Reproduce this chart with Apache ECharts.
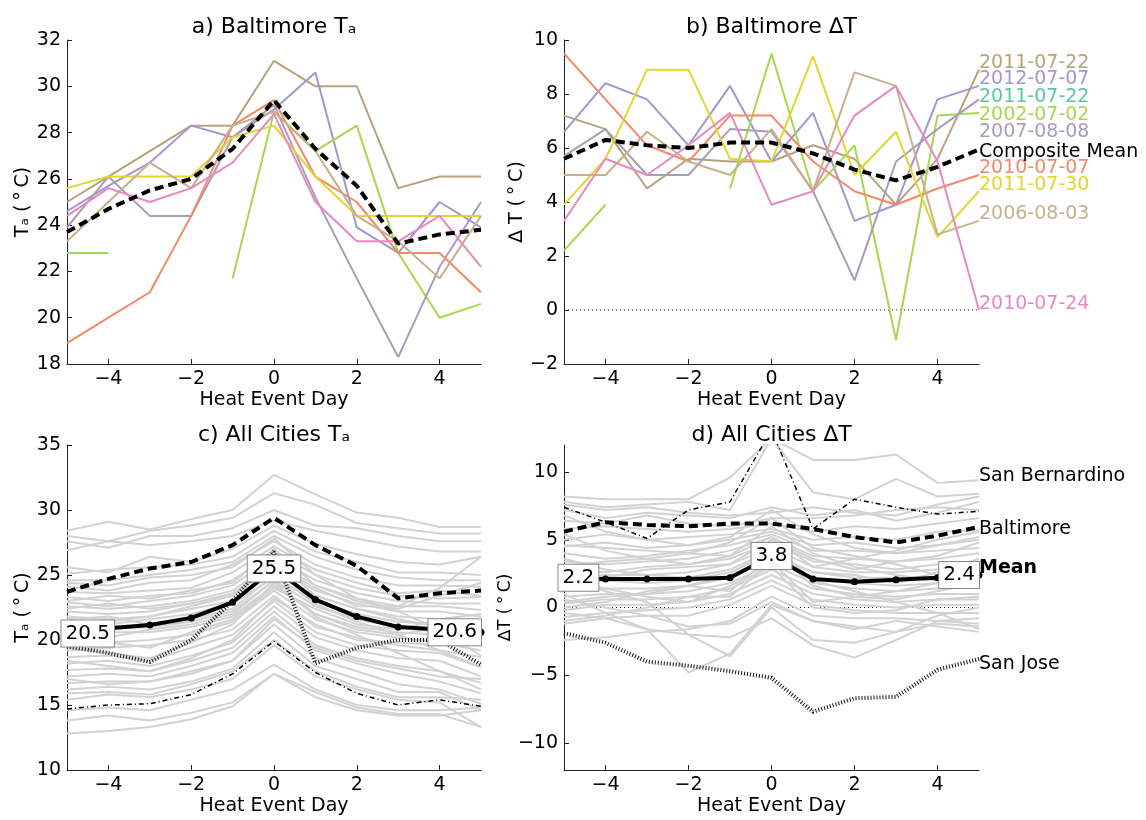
<!DOCTYPE html>
<html>
<head>
<meta charset="utf-8">
<script src="https://cdn.jsdelivr.net/npm/echarts@6/dist/echarts.min.js"></script>
<style>
  html, body { margin: 0; padding: 0; background: #fff; }
  #chart { width: 1146px; height: 820px; }
</style>
</head>
<body>
<div id="chart"></div>
<script>
// heat event days
const days = [-5, -4, -3, -2, -1, 0, 1, 2, 3, 4, 5];
const dayTicks = [-4, -2, 0, 2, 4];

// Baltimore events (panels a, b)
const eventNames = ['2011-07-22', '2012-07-07', '2011-07-22', '2002-07-02', '2007-08-08',
                    '2010-07-07', '2011-07-30', '2006-08-03', '2010-07-24'];
const eventColors = ['#b8a27e', '#a596cf', '#5cc6a0', '#a6d84e', '#a99cb9',
                     '#f08a69', '#e0d62e', '#c7b08c', '#e58ac3'];
const eventTa = [
  [25.0, 26.1, 27.2, 28.3, 28.3, 31.1, 30.0, 30.0, 25.6, 26.1, 26.1],
  [24.6, 25.7, 26.7, 28.3, 27.8, 29.0, 30.6, 23.9, 22.8, 25.0, 23.9],
  [null, null, null, null, null, null, null, null, null, null, null],
  [22.8, 22.8, null, null, 21.7, 28.9, 27.2, 28.3, 22.8, 20.0, 20.6],
  [23.9, 26.1, 24.4, 24.4, 27.8, 29.2, 25.2, 21.7, 18.3, 22.2, 25.0],
  [18.9, 20.0, 21.1, 24.4, 28.3, 29.4, 26.1, 25.0, 22.8, 22.8, 21.1],
  [25.6, 26.1, 26.1, 26.1, 27.8, 28.3, 26.1, 24.4, 24.4, 24.4, 24.4],
  [23.3, 25.0, 26.7, 25.6, 28.3, 28.9, 27.2, 24.4, 23.3, 21.7, 24.4],
  [24.4, 25.6, 25.0, 25.6, 26.7, 28.8, 25.0, 23.3, 23.3, 24.4, 22.2]
];
const eventDT = [
  [7.2, 6.7, 4.5, 5.6, 5.5, 5.5, 6.1, 5.6, 3.9, 5.6, 8.9],
  [6.6, 8.4, 7.8, 6.1, 8.3, 5.5, 7.3, 3.3, 3.9, 7.8, 8.3],
  [null, null, null, null, null, null, null, null, null, null, null],
  [2.2, 3.9, null, null, 4.5, 9.5, 4.4, 6.1, -1.1, 7.2, 7.3],
  [5.7, 6.7, 5.0, 5.0, 6.7, 6.6, 4.4, 1.1, 5.5, 6.7, 7.8],
  [9.5, 7.8, 6.1, 5.5, 7.2, 7.2, 5.5, 4.4, 3.9, 4.5, 5.0],
  [3.9, 5.6, 8.9, 8.9, 5.6, 5.5, 9.4, 5.0, 6.6, 2.7, 4.4],
  [5.0, 5.0, 6.6, 5.5, 5.0, 6.7, 4.4, 8.8, 8.3, 2.8, 3.3],
  [3.3, 5.6, 5.0, 6.1, 7.3, 3.9, 4.4, 7.2, 8.3, 5.5, 0.0]
];
const baltimoreMeanTa = [23.7, 24.7, 25.5, 26.0, 27.3, 29.4, 27.3, 25.7, 23.2, 23.6, 23.8];
const baltimoreMeanDT = [5.6, 6.3, 6.1, 6.0, 6.2, 6.2, 5.8, 5.2, 4.8, 5.3, 5.95];

// all cities (panels c, d)
const allMeanTa = [20.5, 20.9, 21.15, 21.7, 22.9, 25.5, 23.1, 21.8, 21.0, 20.8, 20.6];
const allMeanDT = [2.2, 2.1, 2.1, 2.1, 2.2, 3.8, 2.1, 1.9, 2.05, 2.2, 2.4];
const sanJoseTa = [19.5, 19.0, 18.3, 20.0, 23.0, 26.8, 18.2, 19.4, 20.0, 20.0, 18.1];
const sanJoseDT = [-1.9, -2.6, -4.0, -4.3, -4.7, -5.2, -7.7, -6.7, -6.6, -4.6, -3.8];
const sanBernTa = [14.7, 15.0, 15.1, 15.8, 17.4, 19.9, 17.5, 15.9, 15.0, 15.4, 14.9];
const sanBernDT = [7.4, 6.3, 5.1, 7.2, 7.8, 13.1, 5.8, 8.0, 7.4, 6.9, 7.1];

const cityTa = [
  [28.4, 29.1, 28.5, 29.3, 30.0, 32.7, 31.2, 29.8, 29.4, 28.7, 28.7],
  [28.0, 27.6, 28.4, 28.8, 29.4, 31.3, 30.4, 29.0, 28.6, 28.2, 28.2],
  [27.6, 27.1, 28.0, 28.0, 28.6, 30.0, 28.8, 28.6, 28.0, 27.6, 27.6],
  [26.9, 27.6, 27.3, 27.6, 28.0, 29.2, 28.4, 27.8, 27.2, 26.8, 26.8],
  [25.6, 25.2, 26.4, 26.0, 27.0, 28.8, 27.4, 26.6, 26.0, 25.8, 26.4],
  [25.1, 25.4, 25.6, 25.8, 26.4, 28.4, 26.8, 26.0, 25.2, 25.2, 25.0],
  [24.6, 24.6, 25.0, 25.4, 26.0, 28.0, 26.4, 25.4, 24.8, 24.6, 24.6],
  [24.1, 23.8, 24.4, 24.6, 25.8, 27.6, 25.8, 24.8, 24.2, 24.2, 24.1],
  [23.7, 23.6, 23.8, 24.0, 25.2, 27.2, 25.4, 24.4, 23.6, 23.8, 23.4],
  [23.3, 23.0, 23.4, 23.6, 24.6, 26.8, 25.0, 24.0, 23.4, 23.2, 23.3],
  [22.9, 22.6, 23.0, 23.4, 24.2, 26.4, 24.6, 23.6, 23.0, 22.8, 22.8],
  [22.6, 22.4, 22.6, 23.0, 23.8, 26.0, 24.2, 23.2, 22.6, 22.6, 22.3],
  [22.2, 22.0, 22.2, 22.8, 23.6, 25.6, 23.8, 22.8, 22.2, 22.2, 21.8],
  [21.8, 21.6, 21.8, 22.4, 23.0, 25.2, 23.4, 22.4, 21.8, 21.6, 21.3],
  [21.3, 21.2, 21.6, 22.0, 22.8, 24.8, 23.0, 22.0, 21.4, 21.2, 20.8],
  [20.8, 20.8, 21.0, 21.4, 22.2, 24.6, 22.6, 21.6, 21.0, 20.6, 20.3],
  [20.3, 20.6, 20.6, 21.0, 21.8, 24.2, 22.0, 21.0, 20.6, 20.4, 19.7],
  [19.7, 19.8, 20.0, 20.4, 21.4, 23.8, 21.6, 20.6, 20.2, 19.8, 19.2],
  [19.2, 19.4, 19.6, 20.0, 20.8, 23.4, 21.0, 20.2, 19.6, 19.2, 18.7],
  [18.7, 18.8, 18.4, 19.4, 20.4, 23.0, 20.6, 19.6, 19.2, 19.0, 17.9],
  [18.2, 18.4, 18.0, 18.8, 19.8, 22.6, 20.2, 19.2, 18.6, 18.4, 17.2],
  [17.7, 17.8, 17.6, 18.4, 19.4, 22.2, 19.6, 18.6, 18.0, 17.6, 16.7],
  [17.2, 17.4, 17.2, 18.0, 19.0, 21.8, 19.2, 18.2, 17.4, 16.8, 15.9],
  [16.7, 16.8, 16.8, 17.4, 18.4, 21.2, 18.6, 17.6, 16.6, 16.2, 15.1],
  [16.2, 16.4, 16.2, 16.8, 17.8, 20.6, 18.0, 17.0, 16.0, 16.0, 14.6],
  [15.4, 15.8, 15.6, 16.2, 17.0, 19.6, 17.2, 16.2, 15.4, 15.2, 13.3],
  [14.6, 14.8, 14.6, 15.4, 16.2, 18.1, 16.2, 15.0, 14.6, 14.6, 14.8],
  [13.8, 14.2, 13.8, 14.4, 15.2, 17.4, 15.6, 14.6, 14.2, 14.2, 14.6],
  [12.8, 13.0, 13.3, 13.9, 14.9, 17.4, 16.0, 14.8, 14.3, 14.3, 13.3],
  [23.0, 23.4, 23.2, 23.8, 24.4, 27.0, 24.2, 23.0, 22.4, 23.4, 24.4],
  [21.0, 21.4, 21.8, 22.6, 23.4, 25.8, 24.0, 22.6, 22.6, 24.0, 26.4],
  [20.0, 19.8, 19.4, 20.6, 21.6, 24.0, 22.4, 21.2, 20.8, 21.6, 22.0],
  [19.4, 19.0, 18.6, 19.8, 21.2, 24.4, 22.0, 20.8, 20.4, 21.0, 21.4],
  [18.4, 18.0, 17.6, 18.6, 20.0, 23.2, 21.2, 20.0, 19.8, 19.6, 20.0],
  [22.4, 22.8, 22.4, 22.8, 23.4, 26.2, 23.4, 22.4, 21.6, 21.0, 19.7],
  [24.4, 24.2, 24.8, 25.0, 25.6, 27.8, 25.0, 23.2, 22.2, 20.8, 18.8],
  [21.6, 21.8, 21.2, 21.6, 22.4, 25.0, 22.8, 21.4, 20.4, 19.2, 17.9],
  [20.6, 20.2, 20.8, 21.2, 22.0, 24.6, 21.8, 20.4, 19.0, 17.6, 16.2],
  [15.9, 16.0, 15.8, 16.6, 17.6, 20.0, 17.6, 16.4, 15.6, 15.6, 15.4],
  [17.0, 16.6, 16.8, 17.6, 18.4, 21.6, 19.4, 18.4, 17.8, 17.2, 17.0]
];
const cityDT = [
  [8.2, 8.0, 8.0, 8.0, 9.6, 12.5, 10.9, 10.9, 11.3, 9.2, 9.4],
  [7.8, 7.4, 7.6, 7.8, 7.2, 12.5, 8.5, 8.0, 9.5, 8.2, 8.4],
  [7.2, 6.6, 7.0, 6.8, 6.6, 7.4, 6.8, 7.2, 6.4, 7.0, 7.8],
  [6.4, 6.2, 6.8, 6.2, 6.0, 6.6, 6.6, 6.8, 7.2, 7.4, 7.2],
  [5.8, 6.0, 5.8, 5.6, 5.8, 6.2, 5.6, 6.0, 5.8, 6.2, 6.6],
  [5.0, 5.4, 5.0, 5.2, 5.4, 5.8, 5.0, 5.2, 5.0, 5.6, 5.7],
  [4.5, 4.8, 4.4, 4.6, 5.0, 5.6, 4.6, 4.8, 4.4, 4.6, 5.0],
  [4.0, 3.6, 3.8, 4.2, 4.6, 5.4, 4.2, 4.2, 4.0, 4.2, 4.4],
  [3.4, 3.2, 3.4, 3.6, 4.2, 5.2, 3.8, 3.6, 3.4, 3.6, 4.0],
  [2.7, 2.6, 3.0, 3.2, 3.6, 4.8, 3.4, 3.2, 2.8, 3.2, 3.4],
  [2.2, 2.4, 2.4, 2.6, 3.2, 4.4, 3.0, 2.6, 2.6, 2.8, 3.0],
  [1.8, 2.0, 1.8, 2.0, 2.6, 4.0, 2.6, 2.2, 2.2, 2.2, 2.6],
  [1.3, 1.4, 1.4, 1.6, 2.2, 3.6, 2.2, 1.8, 1.6, 1.8, 2.0],
  [0.8, 1.0, 1.0, 1.2, 1.8, 3.2, 1.8, 1.4, 1.2, 1.4, 1.6],
  [0.3, 0.6, 0.6, 0.8, 1.4, 2.8, 1.4, 1.0, 0.8, 1.0, 1.0],
  [-0.2, 0.2, 0.2, 0.4, 1.0, 2.4, 1.0, 0.6, 0.4, 0.6, 0.6],
  [-0.7, -0.4, -0.2, 0.0, 0.6, 2.0, 0.6, 0.2, 0.0, 0.2, 0.2],
  [-1.2, -0.8, -0.6, -0.6, 0.2, 1.6, 0.2, -0.2, -0.4, -0.4, -0.4],
  [-2.4, -2.2, -1.8, -1.6, -1.0, 0.8, -0.6, -0.8, -0.8, -1.0, -1.2],
  [0.6, 0.0, -0.6, -1.4, -1.2, 0.4, -1.0, -1.6, -1.0, -1.4, -1.8],
  [-0.4, -0.8, -1.6, -2.0, -2.2, -0.8, -2.8, -3.7, -2.4, -1.0, -0.8],
  [1.0, -0.4, -1.6, -4.8, -3.4, 0.2, -1.0, -1.4, -1.8, -1.2, -1.4],
  [2.4, 1.2, 0.4, -2.0, -3.6, 0.0, -2.4, -2.6, -1.8, -0.6, 0.0],
  [5.4, 4.2, 3.6, 3.2, 3.8, 5.2, 3.0, 3.6, 4.2, 5.0, 5.6],
  [6.8, 5.6, 5.0, 4.6, 5.2, 7.2, 5.4, 4.4, 4.0, 4.6, 5.2],
  [3.0, 3.4, 3.6, 4.0, 3.8, 6.0, 4.0, 3.0, 2.4, 2.0, 1.6],
  [1.6, 2.2, 2.8, 3.0, 3.2, 5.0, 3.6, 2.8, 3.4, 3.8, 4.8],
  [-1.0, -0.6, 0.0, 0.8, 0.8, 3.4, 0.4, 0.8, 1.2, 1.8, 3.0],
  [0.0, 0.4, 1.2, 1.6, 2.4, 4.6, 2.0, 1.2, 0.4, -0.4, -1.6],
  [4.6, 4.4, 4.2, 4.0, 4.8, 6.6, 4.4, 3.8, 3.2, 2.4, 2.2],
  [7.6, 7.2, 7.4, 7.0, 6.8, 7.0, 7.4, 7.0, 6.8, 7.6, 8.2],
  [3.6, 2.8, 2.4, 2.2, 2.8, 4.2, 1.6, 0.8, 0.6, 1.2, 1.8],
  [2.0, 1.4, 0.8, 0.4, 1.6, 3.0, 0.0, -0.4, -0.2, 0.6, 0.8],
  [0.4, 0.8, 1.0, 1.6, 1.2, 3.8, 2.6, 2.4, 1.8, 2.6, 3.6]
];

// where the right-hand names sit (in the panel's own y units)
const eventLabelY = [9.16, 8.56, 7.89, 7.22, 6.59, 5.26, 4.63, 3.56, 0.22];
const compositeLabelY = 5.85;
const cityLabels = [
  { name: 'San Bernardino', y: 9.7, bold: false },
  { name: 'Baltimore', y: 5.78, bold: false },
  { name: 'Mean', y: 2.89, bold: true },
  { name: 'San Jose', y: -4.15, bold: false }
];

const FONT = 'DejaVu Sans';
const minus = v => String(v).replace('-', '\u2212');
const pts = vals => days.map((d, i) => [d, vals[i] == null ? '-' : vals[i]]);

const grids = [
  { left: 67, top: 40, width: 414, height: 324 },
  { left: 564, top: 40, width: 415, height: 324 },
  { left: 67, top: 445, width: 414, height: 325 },
  { left: 564, top: 445, width: 415, height: 325 }
];

function xAxis(i) {
  return {
    type: 'value', gridIndex: i, min: -5, max: 5,
    name: 'Heat Event Day', nameLocation: 'middle', nameGap: 27,
    nameTextStyle: { fontFamily: FONT, fontSize: 19, color: '#000' },
    axisLine: { onZero: false, lineStyle: { color: '#222', width: 1 } },
    axisTick: { inside: true, length: 5, customValues: dayTicks, lineStyle: { color: '#222' } },
    axisLabel: { customValues: dayTicks, formatter: minus, margin: 6,
                 fontFamily: FONT, fontSize: 19, color: '#000' },
    splitLine: { show: false }
  };
}

function yAxis(i, opts) {
  const ticks = opts.ticks;
  return {
    type: 'value', gridIndex: i, min: opts.min, max: opts.max,
    name: opts.name, nameLocation: 'middle', nameGap: opts.gap, nameRotate: 90,
    nameTextStyle: { fontFamily: FONT, fontSize: opts.nameSize || 19, color: '#000' },
    axisLine: { onZero: false, lineStyle: { color: '#222', width: 1 } },
    axisTick: { inside: true, length: 5, customValues: ticks, lineStyle: { color: '#222' } },
    axisLabel: { customValues: ticks, formatter: minus, margin: 6,
                 fontFamily: FONT, fontSize: 19, color: '#000' },
    splitLine: { show: false }
  };
}

const range = (a, b, s) => { const r = []; for (let v = a; v <= b + 1e-9; v += s) r.push(v); return r; };

function line(i, vals, style, z) {
  return {
    type: 'line', xAxisIndex: i, yAxisIndex: i, data: pts(vals),
    symbol: 'none', showSymbol: false, silent: true, animation: false,
    clip: true, z: z || 2,
    lineStyle: Object.assign({ cap: 'butt' }, style)
  };
}

const series = [];

// panel a & b: individual events
eventNames.forEach((n, k) => {
  series.push(line(0, eventTa[k], { color: eventColors[k], width: 2 }, 2));
  series.push(line(1, eventDT[k], { color: eventColors[k], width: 2 }, 2));
});
series.push(line(0, baltimoreMeanTa, { color: '#000', width: 4, type: [9, 5] }, 5));
series.push(line(1, baltimoreMeanDT, { color: '#000', width: 4, type: [9, 5] }, 5));

// zero reference lines
series.push(line(1, days.map(() => 0), { color: '#222', width: 1, type: [1, 3] }, 1));
series.push(line(3, days.map(() => 0), { color: '#222', width: 1, type: [1, 3] }, 1));

// panel c & d: all cities in grey
cityTa.forEach(v => series.push(line(2, v, { color: '#d2d2d2', width: 2 }, 1)));
cityDT.forEach(v => series.push(line(3, v, { color: '#d2d2d2', width: 2 }, 1)));

[[2, baltimoreMeanTa, sanJoseTa, sanBernTa], [3, baltimoreMeanDT, sanJoseDT, sanBernDT]].forEach(([g, balt, sj, sb]) => {
  series.push(line(g, balt, { color: '#000', width: 4, type: [9, 5] }, 5));
  series.push(line(g, sj, { color: '#111', width: 4, type: [1, 2] }, 5));
  series.push(line(g, sb, { color: '#000', width: 1.5, type: [5, 3, 1, 3] }, 5));
});

// mean lines with boxed values
function meanSeries(g, vals) {
  const boxed = { 0: ['right', [-9, 0]], 5: ['inside', [0, 0]], 10: ['left', [3.5, 0]] };
  return {
    type: 'line', xAxisIndex: g, yAxisIndex: g, animation: false, silent: true, z: 6,
    symbol: 'circle', symbolSize: 7, showSymbol: true,
    itemStyle: { color: '#000' },
    lineStyle: { color: '#000', width: 4 },
    data: days.map((d, i) => {
      const item = { value: [d, vals[i]] };
      if (boxed[i]) {
        item.label = {
          show: true, position: boxed[i][0], offset: boxed[i][1], distance: 0,
          formatter: p => p.value[1].toFixed(1),
          fontFamily: FONT, fontSize: 20, color: '#000',
          backgroundColor: '#fff', borderColor: '#888', borderWidth: 1,
          padding: [4, 4, 2, 4]
        };
      }
      return item;
    })
  };
}
series.push(meanSeries(2, allMeanTa));
series.push(meanSeries(3, allMeanDT));

function panelTitles() {
  const texts = ['a) Baltimore T\u2090', 'b) Baltimore \u2206T', 'c) All Cities T\u2090', 'd) All Cities \u2206T'];
  return texts.map((t, i) => ({
    type: 'text', silent: true,
    x: grids[i].left + grids[i].width / 2, y: grids[i].top - (i < 2 ? 13 : 10),
    style: { text: t, fontFamily: FONT, fontSize: 22, fill: '#000',
             align: 'center', verticalAlign: 'middle' }
  }));
}

const option = {
  backgroundColor: '#fff',
  animation: false,
  grid: grids,
  xAxis: [0, 1, 2, 3].map(xAxis),
  yAxis: [
    yAxis(0, { min: 18, max: 32, ticks: range(18, 32, 2), name: 'T\u2090 (\u2009\u00b0\u2009C)', gap: 33 }),
    yAxis(1, { min: -2, max: 10, ticks: range(-2, 10, 2), name: '\u2206 T (\u2009\u00b0\u2009C)', gap: 36 }),
    yAxis(2, { min: 10, max: 35, ticks: range(10, 35, 5), name: 'T\u2090 (\u2009\u00b0\u2009C)', gap: 33 }),
    yAxis(3, { min: -12, max: 12, ticks: [-10, -5, 0, 5, 10], name: '\u2206T (\u2009\u00b0\u2009C)', gap: 36, nameSize: 17 })
  ],
  series: series,
  graphic: panelTitles()
};

const chart = echarts.init(document.getElementById('chart'), null, { renderer: 'canvas' });
chart.setOption(option);

// right-hand names, placed through the panels' scales
function nameText(grid, x, y, text, color, bold) {
  const p = chart.convertToPixel({ gridIndex: grid }, [x, y]);
  return {
    type: 'text', silent: true, x: p[0], y: p[1],
    style: { text: text, fontFamily: FONT, fontSize: 19, fill: color,
             fontWeight: bold ? 'bold' : 'normal', align: 'left', verticalAlign: 'middle' }
  };
}
const names = eventNames.map((n, k) => nameText(1, 5, eventLabelY[k], n, eventColors[k], false))
  .concat([nameText(1, 5, compositeLabelY, 'Composite Mean', '#000', false)])
  .concat(cityLabels.map(c => nameText(3, 5, c.y, c.name, '#000', c.bold)));
chart.setOption({ graphic: panelTitles().concat(names) });
</script>
</body>
</html>
